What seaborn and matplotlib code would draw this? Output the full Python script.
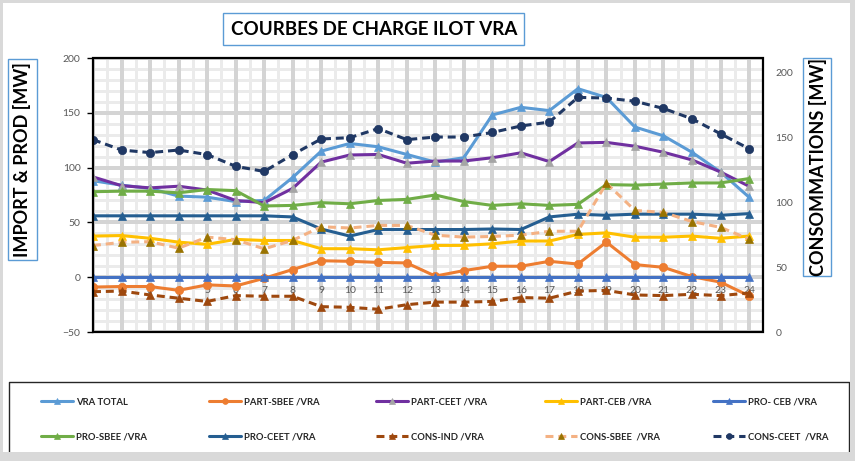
import numpy as np
import pandas as pd
import matplotlib
matplotlib.use("Agg")
import matplotlib.pyplot as plt
import seaborn as sns
from matplotlib.patches import Rectangle
from matplotlib.lines import Line2D

# ---------------- data ----------------
hours = list(range(1, 25))
vra_total = [88, 84, 81, 74, 73, 69, 70, 91, 115, 122, 119, 112, 105, 109, 148, 155, 152, 172, 164, 137, 129, 114, 96, 73]
part_sbee = [-9, -8.5, -8.5, -12, -7, -8, -1, 7, 15, 14.5, 13.5, 13, 1, 6, 10, 10, 14.5, 12, 32, 11.5, 9, 0.5, -4.5, -17]
part_ceet = [91.5, 83.5, 81.5, 83, 79.5, 70, 68, 81, 105, 111.5, 112, 104, 106, 106, 109, 113.5, 105.5, 122.5, 123, 119.5, 114, 107, 96, 83]
part_ceb = [37.5, 38, 35.5, 32, 30, 34.5, 33.5, 33.5, 26, 26, 25, 27, 29, 29, 30.5, 33, 33, 39, 40.5, 36.5, 36.5, 37.5, 35.5, 37.5]
pro_ceb = [0, 0, 0, 0, 0, 0, 0, 0, 0, 0, 0, 0, 0, 0, 0, 0, 0, 0, 0, 0, 0, 0, 0, 0]
pro_sbee = [78, 78.5, 78.5, 77, 80, 79, 65, 65.5, 68, 67, 70, 71, 75, 69, 65.5, 67, 65.5, 66.5, 84.5, 84, 85, 86, 86, 90]
pro_ceet = [56, 56, 56, 56, 56, 56, 56, 55, 44, 37.5, 43.5, 43.5, 43.5, 43.5, 44, 43.5, 55, 57.5, 56.5, 57.5, 57.5, 57.5, 56.5, 58]
# secondary axis (consommations)
cons_ind = [31, 31.5, 28.5, 26, 23.5, 28, 27.5, 27.5, 19.5, 19, 17.5, 21, 23, 23, 23.5, 26.5, 26, 31.5, 32, 28.5, 28, 29, 28, 30]
cons_sbee = [66.5, 69, 69.5, 64.5, 73, 71, 64, 70.5, 81, 80, 82, 82, 74.5, 73, 73.5, 74.5, 77.5, 77.5, 114.5, 93.5, 92, 85, 80.5, 71.5]
cons_ceet = [148, 140, 138, 140, 136.5, 127.5, 123.5, 136.5, 148.5, 149.5, 156.5, 148, 150, 150, 153.5, 158.5, 161.5, 180.5, 180, 177.5, 172, 164, 152.5, 141]

labels = ["VRA TOTAL", "PART-SBEE /VRA", "PART-CEET /VRA", "PART-CEB /VRA", "PRO- CEB /VRA",
          "PRO-SBEE /VRA", "PRO-CEET /VRA", "CONS-IND /VRA", "CONS-SBEE  /VRA", "CONS-CEET  /VRA"]
left_y_ticks = [-50, 0, 50, 100, 150, 200]
right_y_ticks = [0, 50, 100, 150, 200]

# ---------------- style ----------------
sns.set_theme(style="white")
plt.rcParams["font.family"] = ["Lato", "DejaVu Sans"]

W, H = 855, 461
fig = plt.figure(figsize=(W / 100, H / 100), dpi=100)
fig.patch.set_facecolor("white")


def frect(x0, y0, x1, y1, **kw):
    r = Rectangle((x0 / W, 1 - y1 / H), (x1 - x0) / W, (y1 - y0) / H,
                  transform=fig.transFigure, **kw)
    fig.add_artist(r)
    return r


XMIN, XMAX = 1, 24.49
YMIN, YMAX = -50, 200
POS = [93 / W, 1 - 332 / H, (763 - 93) / W, (332 - 58) / H]

# background axes holding only the grid
axg = fig.add_axes(POS)
axg.set_facecolor("white")
minor_x = np.arange(1.5, 25, 1)
minor_y = [v for v in range(-50, 201, 10) if v % 50 != 0]
axg.vlines(minor_x, YMIN, YMAX, colors="#EBEBEB", linewidth=0.8, antialiased=False)
axg.hlines(minor_y, XMIN, XMAX, colors="#EBEBEB", linewidth=0.8, antialiased=False)
axg.vlines(hours, YMIN, YMAX, colors="#D4D4D4", linewidth=1.5, antialiased=False)
axg.hlines(left_y_ticks, XMIN, XMAX, colors="#D4D4D4", linewidth=1.5, antialiased=False)
axg.set_xlim(XMIN, XMAX)
axg.set_ylim(YMIN, YMAX)
axg.set_xticks([])
axg.set_yticks([])
for s in axg.spines.values():
    s.set_visible(False)

ax = fig.add_axes(POS)
ax.patch.set_visible(False)

LW = 2.2
DASH = (0, (2.6, 1.6))

left_specs = [
    (vra_total, dict(color="#5B9BD5", marker="^", mfc="#5B9BD5")),
    (part_sbee, dict(color="#ED7D31", marker="o", mfc="#ED7D31")),
    (part_ceet, dict(color="#7030A0", marker="^", mfc="#A5A5A5")),
    (part_ceb, dict(color="#FFC000", marker="^", mfc="#FFC000")),
    (pro_ceb, dict(color="#4472C4", marker="^", mfc="#4472C4")),
    (pro_sbee, dict(color="#70AD47", marker="^", mfc="#70AD47")),
    (pro_ceet, dict(color="#255E91", marker="^", mfc="#255E91")),
]

handles = []
for vals, st in left_specs:
    sns.lineplot(x=hours, y=vals, ax=ax, color=st["color"], linewidth=LW,
                 marker=st["marker"], markersize=6,
                 markerfacecolor=st["mfc"], markeredgecolor=st["mfc"],
                 markeredgewidth=0.5, legend=False)
    handles.append(ax.lines[-1])

ax2 = ax.twinx()
ax2.patch.set_visible(False)
right_specs = [
    (cons_ind, dict(color="#9E480E", marker="^", mfc="#9E480E")),
    (cons_sbee, dict(color="#F4B183", marker="^", mfc="#997300")),
    (cons_ceet, dict(color="#203864", marker="o", mfc="#203864")),
]
for vals, st in right_specs:
    sns.lineplot(x=hours, y=vals, ax=ax2, color=st["color"], linewidth=LW,
                 marker=st["marker"], markersize=6,
                 markerfacecolor=st["mfc"], markeredgecolor=st["mfc"],
                 markeredgewidth=0.5, legend=False)
    ln = ax2.lines[-1]
    ln.set_linestyle(DASH)
    handles.append(ln)

# ---------------- axes ----------------
ax.set_xlim(XMIN, XMAX)
ax.set_ylim(YMIN, YMAX)
ax2.set_ylim(0, 210.8)

for s in ax.spines.values():
    s.set_visible(False)
for s in ax2.spines.values():
    s.set_visible(False)
ax.spines["bottom"].set_position(("data", 0))

ax.set_xticks(hours)
ax.set_xticklabels([str(h) for h in hours])
ax.set_yticks(left_y_ticks)
ax.grid(False)

ax.tick_params(axis="x", which="both", length=0, labelsize=7.5,
               labelcolor="#595959", pad=6)
ax.tick_params(axis="y", which="major", length=4, width=1, color="black",
               direction="out", left=True, labelsize=7.5, labelcolor="#595959", pad=5)
ax.set_xlabel("")
ax.set_ylabel("")

ax2.set_yticks(right_y_ticks)
ax2.tick_params(axis="y", which="both", length=0, labelsize=7.5,
                labelcolor="#595959", pad=9)
ax2.set_ylabel("")

ax2.add_patch(Rectangle((0, 0), 1, 1, transform=ax.transAxes, fill=False,
                        edgecolor="black", linewidth=1.6, zorder=20, clip_on=False))

# ---------------- titles / labels ----------------
frect(223, 13, 524, 44.5, fill=False, edgecolor="#5B9BD5", linewidth=1.0)
fig.text(374 / W, 1 - 29.5 / H, "COURBES DE CHARGE ILOT VRA", ha="center", va="center",
         fontsize=13.5, fontweight="bold", color="black")

frect(8, 59, 37, 260, fill=False, edgecolor="#5B9BD5", linewidth=1.0)
fig.text(22.5 / W, 1 - 160 / H, "IMPORT & PROD [MW]", rotation=90, ha="center",
         va="center", fontsize=13, fontweight="bold", color="black")

frect(803, 58, 831, 276, fill=False, edgecolor="#5B9BD5", linewidth=1.0)
fig.text(817.5 / W, 1 - 167 / H, "CONSOMMATIONS [MW]", rotation=90, ha="center",
         va="center", fontsize=13, fontweight="bold", color="black")

# ---------------- legend ----------------
fig.add_artist(Line2D([9 / W, 9 / W, 849 / W, 849 / W],
                      [1 - 453 / H, 1 - 382 / H, 1 - 382 / H, 1 - 453 / H],
                      transform=fig.transFigure, color="#262626", linewidth=1.0))

col_x = [41, 209, 376, 545, 713]
row_y = [402, 437]
for i, (h, lab) in enumerate(zip(handles, labels)):
    r, c = divmod(i, 5)
    fig.legend(handles=[h], labels=[lab], loc="center left",
               bbox_to_anchor=(col_x[c] / W, 1 - row_y[r] / H),
               frameon=False, handlelength=3.4, handletextpad=0.3,
               borderpad=0, borderaxespad=0, markerscale=0.7,
               prop=dict(weight="bold", size=6.8))

# gray outer frame (on top)
GRAY = "#D9D9D9"
frect(0, 0, W, 3, facecolor=GRAY, edgecolor="none", zorder=50)
frect(0, 0, 3, H, facecolor=GRAY, edgecolor="none", zorder=50)
frect(850, 0, W, H, facecolor=GRAY, edgecolor="none", zorder=50)
frect(0, 452, W, H, facecolor=GRAY, edgecolor="none", zorder=50)

fig.savefig("out.png", dpi=100, facecolor="white")
